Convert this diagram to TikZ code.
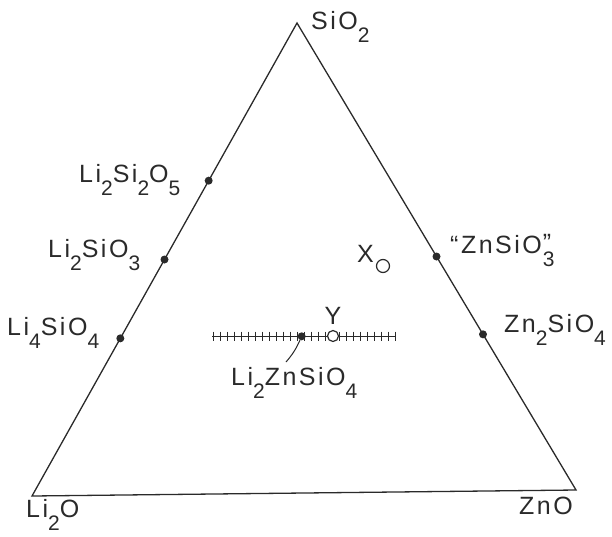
\documentclass[tikz,border=0pt]{standalone}
\usepackage{fontspec}
\setmainfont{Liberation Sans}[LetterSpace=10]
\usetikzlibrary{calc}
\definecolor{tinta}{HTML}{2A2A2A}
% Subíndice grande y bajo, como en el original
\newcommand{\sbi}[1]{\raisebox{-0.52em}{\fontsize{21}{21}\selectfont #1}}
\tikzset{
  % Lados del triángulo de composición
  lado/.style     = {line width=1.3pt, color=tinta, line join=miter},
  % Compuestos sobre los lados
  fase/.style     = {circle, fill=tinta, inner sep=0pt, minimum size=8pt},
  % Composiciones marcadas con círculo abierto (X, Y)
  hueco/.style    = {circle, draw=tinta, fill=white, line width=1.2pt,
                     inner sep=0pt, minimum size=11pt},
  % Junta Li4SiO4 -- Zn2SiO4 y sus marcas
  junta/.style    = {line width=1pt, color=tinta},
  marca/.style    = {line width=0.9pt, color=tinta},
  % Textos
  etiqueta/.style = {inner sep=0pt, anchor=base west, color=tinta,
                     font=\fontsize{25}{25}\selectfont},
}

\begin{document}
\begin{tikzpicture}[x=1pt, y=-1pt]
  \useasboundingbox (0,0) rectangle (612,536);

  % ============================================================
  % Triángulo Li2O -- SiO2 -- ZnO
  % ============================================================
  \coordinate (Si) at (297,23);
  \coordinate (Li) at (32,496);
  \coordinate (Zn) at (576,490);
  \draw[lado] (Li) -- (Si) -- (Zn) -- cycle;

  \node[etiqueta] (tSi) at (311,29)  {SiO\sbi{2}};
  \node[etiqueta] (tLi) at (26,517)  {Li\sbi{2}O};
  \node[etiqueta] (tZn) at (519,514) {ZnO};

  % ============================================================
  % Compuestos binarios
  % ============================================================
  \node[fase] (LS2) at ($(Si)!1/3!(Li)$) {};
  \node[fase] (LS)  at ($(Si)!1/2!(Li)$) {};
  \node[fase] (L2S) at ($(Si)!2/3!(Li)$) {};
  \node[fase] (ZS)  at ($(Si)!1/2!(Zn)$) {};
  \node[fase] (Z2S) at ($(Si)!2/3!(Zn)$) {};

  \node[etiqueta] (tLS2) at (79,182)  {Li\sbi{2}Si\sbi{2}O\sbi{5}};
  \node[etiqueta] (tLS)  at (48,257)  {Li\sbi{2}SiO\sbi{3}};
  \node[etiqueta] (tL2S) at (7,335)   {Li\sbi{4}SiO\sbi{4}};
  \node[etiqueta] (tZS)  at (450,253) {“ZnSiO\rlap{\kern1pt\raisebox{2pt}{”}}\kern1pt\sbi{3}};
  \node[etiqueta] (tZ2S) at (504,332) {Zn\sbi{2}SiO\sbi{4}};

  % ============================================================
  % Junta con marcas, Li2ZnSiO4 en el baricentro
  % ============================================================
  \coordinate (Ji) at (212,336);
  \coordinate (Jd) at (395,336);
  \draw[junta] (Ji) -- (Jd);
  \foreach \x in {213,220,...,395}
    \draw[marca] (\x,331.5) -- (\x,340.5);

  \node[fase] (LZS) at (barycentric cs:Li=1,Si=1,Zn=1) {};
  \coordinate (guia) at (286,362);
  \draw[junta] (LZS) to[bend left=8] (guia);
  \node[etiqueta] (tLZS) at (231,385) {Li\sbi{2}ZnSiO\sbi{4}};

  \node[hueco] (Y) at (333,336) {};
  \node[etiqueta, anchor=base] (tY) at (333,324) {Y};

  \node[hueco, minimum size=13pt] (X) at (383,266) {};
  \node[etiqueta] (tX) at (357,262) {X};

\end{tikzpicture}
\end{document}
